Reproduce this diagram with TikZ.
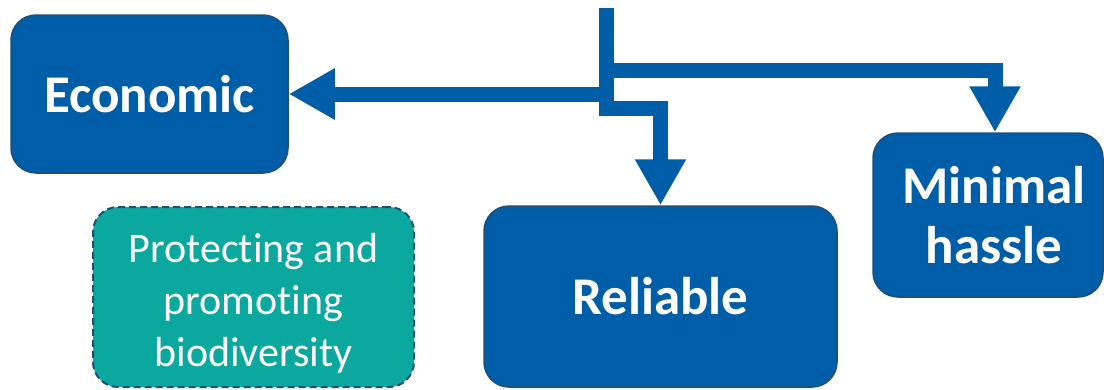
\documentclass[tikz,border=0pt]{standalone}
\usepackage{fontspec}
\setmainfont{Carlito}[Ligatures={NoCommon}]
\usetikzlibrary{arrows.meta}
\definecolor{boxblue}{RGB}{0,94,168}
\definecolor{boxedge}{RGB}{31,78,121}
\definecolor{teal}{RGB}{10,168,158}
\tikzset{
  bluebox/.style={draw=boxedge, line width=1.5pt, fill=boxblue, rounded corners=25pt,
    text=white, font=\fontsize{53}{60}\selectfont\bfseries, align=center, inner sep=0pt},
  tealbox/.style={draw=boxedge, line width=2pt, dash pattern=on 7pt off 4pt, fill=teal, rounded corners=25pt,
    text=white, font=\fontsize{42}{52}\selectfont, align=center, inner sep=0pt},
  arr/.style={draw=boxblue, line width=15pt, line join=miter, line cap=butt,
    -{Triangle[length=46pt,width=48pt]}}
}
\begin{document}
\begin{tikzpicture}[x=1pt,y=-1pt]
\useasboundingbox (0,0) rectangle (1104,389);
\node[bluebox, minimum width=277pt, minimum height=158pt] (eco) at (149.5,94) {Economic};
\node[bluebox, minimum width=353pt, minimum height=181pt] (rel) at (660.5,296.5) {Reliable};
\node[bluebox, minimum width=230pt, minimum height=164pt] (min) at (988,215) {\hspace*{12pt}Minimal\\\hspace*{12pt}hassle};
\node[tealbox, minimum width=321pt, minimum height=180pt] (bio) at (253.5,297) {\rule{0pt}{41pt}Protecting and\\promoting\\biodiversity};
\coordinate (top) at (606.5,8);
\coordinate (split) at (606.5,108);
\coordinate (minturn) at (995,70);
\draw[arr] (top) -- (split) -| (rel.north);
\draw[arr] (eco.east -| top) -- (eco.east);
\draw[arr] (top |- minturn) -- (minturn) -- (minturn |- min.north);
\end{tikzpicture}
\end{document}
